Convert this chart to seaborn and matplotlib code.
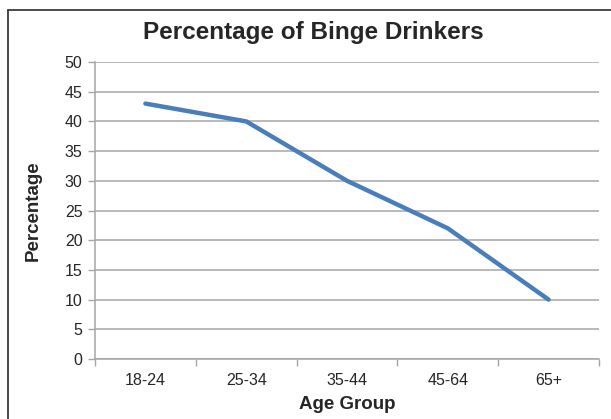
import matplotlib
matplotlib.use("Agg")
import matplotlib.pyplot as plt
from matplotlib.lines import Line2D
import seaborn as sns
import pandas as pd

age_groups = ["18-24", "25-34", "35-44", "45-64", "65+"]
percentages = [43, 40, 30, 22, 10]
y_ticks = [0, 5, 10, 15, 20, 25, 30, 35, 40, 45, 50]

df = pd.DataFrame({"Age Group": age_groups, "Percentage": percentages})

sns.set_style("white")
plt.rcParams["font.family"] = ["Liberation Sans", "DejaVu Sans"]

fig = plt.figure(figsize=(6.11, 4.19), dpi=100)
ax = fig.add_axes([95 / 611, 60 / 419, 504 / 611, 297 / 419])

sns.lineplot(data=df, x="Age Group", y="Percentage", ax=ax,
             color="#4a7ebb", linewidth=3.2, sort=False,
             solid_capstyle="round", solid_joinstyle="round", zorder=3)

ax.set_xlim(-0.5, len(age_groups) - 0.5)
ax.set_ylim(0, 50)
ax.set_yticks(y_ticks)
ax.set_yticklabels([str(v) for v in y_ticks])
ax.set_xticks(range(len(age_groups)))
ax.set_xticklabels(age_groups)
ax.set_xticks([i - 0.5 for i in range(len(age_groups) + 1)], minor=True)

ax.grid(axis="y", color="#a6a6a6", linewidth=1.1, zorder=0)
ax.grid(axis="x", visible=False)
ax.set_axisbelow(True)

for side in ["top", "right"]:
    ax.spines[side].set_visible(False)
for side in ["left", "bottom"]:
    ax.spines[side].set_color("#a6a6a6")
    ax.spines[side].set_linewidth(1.1)

ax.tick_params(axis="y", which="major", length=5, width=1, color="#a6a6a6",
               direction="out", labelsize=11.5, pad=4, left=True)
ax.tick_params(axis="x", which="major", length=0, labelsize=11.5, pad=10)
ax.tick_params(axis="x", which="minor", length=5, width=1, color="#a6a6a6",
               direction="out", bottom=True)

ax.set_xlabel("")
ax.set_ylabel("")
fig.text(347 / 611, 1 - 404 / 419, "Age Group", ha="center", va="center",
         fontsize=13.5, fontweight="bold")
fig.text(33 / 611, 1 - 211 / 419, "Percentage", ha="center", va="center",
         rotation=90, fontsize=13.5, fontweight="bold")
fig.text(313 / 611, 1 - 32 / 419, "Percentage of Binge Drinkers",
         ha="center", va="center", fontsize=17.5, fontweight="bold")

# chart area frame (left and top edges)
fig.add_artist(Line2D([8 / 611, 8 / 611], [0, 1 - 10 / 419],
                      transform=fig.transFigure, color="#3c3c3c", linewidth=1.3))
fig.add_artist(Line2D([8 / 611, 1], [1 - 10 / 419, 1 - 10 / 419],
                      transform=fig.transFigure, color="#3c3c3c", linewidth=1.3))

fig.savefig("out.png", dpi=100, facecolor="white")
